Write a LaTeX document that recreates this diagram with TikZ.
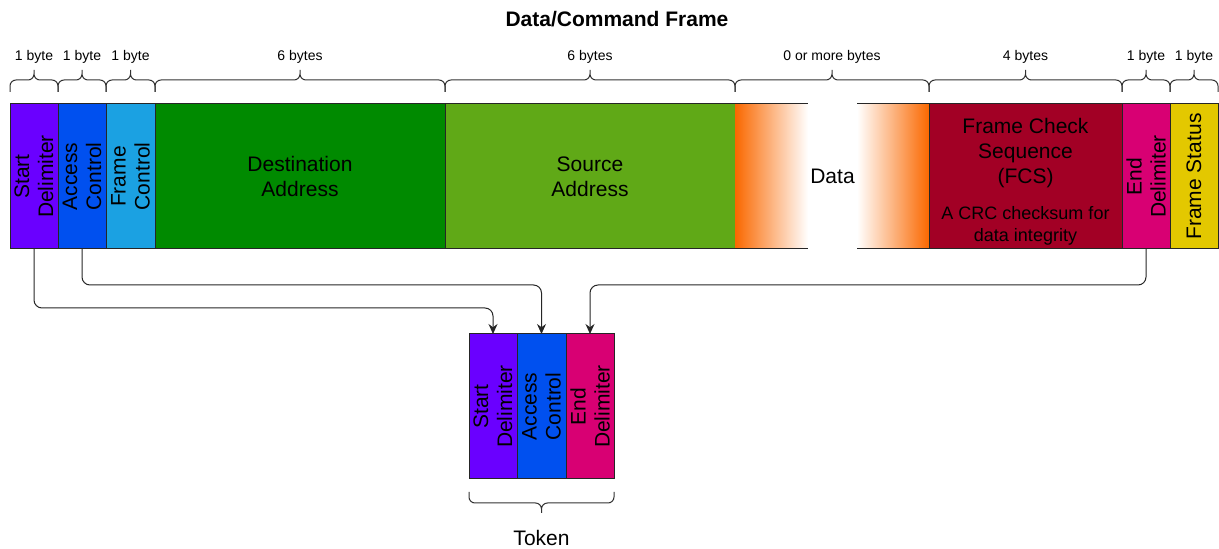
\documentclass[tikz,border=0pt]{standalone}
\usepackage{fontspec}
\setmainfont{Liberation Sans}
\usepackage{xcolor}
\usetikzlibrary{arrows.meta, positioning, calc}
\definecolor{sdpurple}{HTML}{6A00FF}
\definecolor{acblue}{HTML}{0050EF}
\definecolor{fclight}{HTML}{1BA1E2}
\definecolor{dagreen}{HTML}{008A00}
\definecolor{salime}{HTML}{60A917}
\definecolor{dtorange}{HTML}{FA6800}
\definecolor{fcsred}{HTML}{A20025}
\definecolor{edmagenta}{HTML}{D80073}
\definecolor{fsyellow}{HTML}{E3C800}
\tikzset{
  cell/.style={rectangle, draw=black!85, line width=1pt, outer sep=0pt, inner sep=0pt,
    minimum height=145pt, align=center, font=\fontsize{21}{25}\selectfont},
  vlabel/.style={rotate=90, align=center, font=\fontsize{21}{24}\selectfont},
  celltext/.style={align=center, font=\fontsize{21}{25}\selectfont},
  subtext/.style={align=center, font=\fontsize{18}{22}\selectfont},
  bytes/.style={font=\fontsize{14}{16}\selectfont},
  edge/.style={draw=black!85, line width=1pt},
  bracket/.style={draw=black!80, line width=1pt, rounded corners=6pt},
  link/.style={-{Stealth[length=10pt, width=9pt]}, line width=1pt, draw=black!85, rounded corners=8pt}
}
\newcommand{\topbrace}[4]{%
  \coordinate (#3l) at ([yshift=12pt]#1);
  \coordinate (#3r) at ([yshift=12pt]#2);
  \coordinate (#3m) at ($(#3l)!0.5!(#3r)$);
  \draw[bracket] (#3l) |- ([yshift=12pt]#3m) -- ([yshift=22pt]#3m)
                 (#3r) |- ([yshift=12pt]#3m) -- ([yshift=22pt]#3m);
  \node[bytes] (#3t) at ([yshift=35pt]#3m) {#4};
}
\begin{document}
\begin{tikzpicture}[x=1pt, y=1pt]
  \useasboundingbox (0,0) rectangle (1219,549);
  \node[font=\bfseries\fontsize{21}{25}\selectfont] (title) at (617,530) {Data/Command Frame};

  % frame fields
  \node[cell, fill=sdpurple, minimum width=48pt, anchor=north west] (sd) at (10,445) {};
  \node[cell, fill=acblue, minimum width=48pt, right=0pt of sd] (ac) {};
  \node[cell, fill=fclight, minimum width=49pt, right=0pt of ac] (fc) {};
  \node[cell, fill=dagreen, minimum width=290pt, right=0pt of fc] (da) {Destination\\Address};
  \node[cell, fill=salime, minimum width=290pt, right=0pt of da] (sa) {Source\\Address};
  \node[cell, draw=none, left color=dtorange, right color=white, minimum width=73pt, right=0pt of sa] (dl) {};
  \node[cell, draw=none, minimum width=49pt, right=0pt of dl] (data) {Data};
  \node[cell, draw=none, left color=white, right color=dtorange, minimum width=72pt, right=0pt of data] (dr) {};
  \node[cell, fill=fcsred, minimum width=193pt, right=0pt of dr] (fcs) {};
  \node[cell, fill=edmagenta, minimum width=48pt, right=0pt of fcs] (ed) {};
  \node[cell, fill=fsyellow, minimum width=48pt, right=0pt of ed] (fs) {};
  \draw[edge] (dl.north west) -- (dl.north east) (dl.south west) -- (dl.south east);
  \draw[edge] (dr.north west) -- (dr.north east) (dr.south west) -- (dr.south east);

  \node[vlabel] (sdt) at (sd) {Start\\Delimiter};
  \node[vlabel] (act) at (ac) {Access\\Control};
  \node[vlabel] (fct) at (fc) {Frame\\Control};
  \node[celltext] (fcst) at ([yshift=23.5pt]fcs.center) {Frame Check\\Sequence\\(FCS)};
  \node[subtext] (fcss) at ([yshift=-49.5pt]fcs.center) {A CRC checksum for\\data integrity};
  \node[vlabel] (edt) at (ed) {End\\Delimiter};
  \node[vlabel] (fst) at (fs) {Frame Status};

  % byte counts
  \topbrace{sd.north west}{sd.north east}{bsd}{1 byte}
  \topbrace{ac.north west}{ac.north east}{bac}{1 byte}
  \topbrace{fc.north west}{fc.north east}{bfc}{1 byte}
  \topbrace{da.north west}{da.north east}{bda}{6 bytes}
  \topbrace{sa.north west}{sa.north east}{bsa}{6 bytes}
  \topbrace{dl.north west}{dr.north east}{bdt}{0 or more bytes}
  \topbrace{fcs.north west}{fcs.north east}{bfcs}{4 bytes}
  \topbrace{ed.north west}{ed.north east}{bed}{1 byte}
  \topbrace{fs.north west}{fs.north east}{bfs}{1 byte}

  % token
  \node[cell, fill=sdpurple, minimum width=48pt, anchor=north west] (ts) at (469,215) {};
  \node[cell, fill=acblue, minimum width=49pt, right=0pt of ts] (ta) {};
  \node[cell, fill=edmagenta, minimum width=48pt, right=0pt of ta] (te) {};
  \node[vlabel] (tst) at (ts) {Start\\Delimiter};
  \node[vlabel] (tat) at (ta) {Access\\Control};
  \node[vlabel] (tet) at (te) {End\\Delimiter};

  \coordinate (tbl) at ([yshift=-13pt]ts.south west);
  \coordinate (tbr) at ([yshift=-13pt]te.south east);
  \coordinate (tbm) at ($(tbl)!0.5!(tbr)$);
  \draw[bracket] (tbl) |- ([yshift=-11pt]tbm) -- ([yshift=-21pt]tbm)
                 (tbr) |- ([yshift=-11pt]tbm) -- ([yshift=-21pt]tbm);
  \node[celltext, inner sep=0pt] (token) at ([yshift=-46pt]tbm) {Token};

  \draw[link] (sd.south) -- ++(0,-59) -| (ts.north);
  \draw[link] (ac.south) -- ++(0,-36) -| (ta.north);
  \draw[link] (ed.south) -- ++(0,-36) -| (te.north);
\end{tikzpicture}
\end{document}
